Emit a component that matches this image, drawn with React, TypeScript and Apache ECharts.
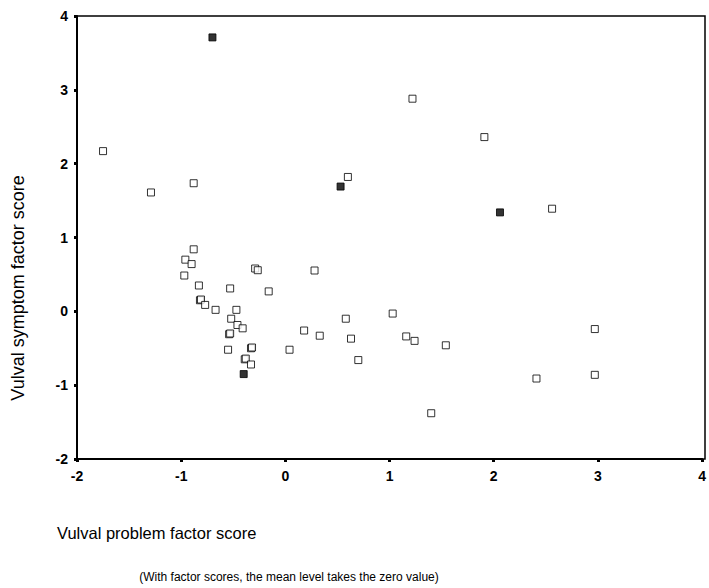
import React, { useEffect, useRef } from "react";
import * as echarts from "echarts";

const xTicks = [-2, -1, 0, 1, 2, 3, 4];
const yTicks = [-2, -1, 0, 1, 2, 3, 4];

// open squares: [problem score, symptom score]
const openPoints: number[][] = [
  [-1.75, 2.17], [-1.29, 1.61], [-0.88, 1.735], [0.6, 1.82],
  [1.22, 2.88], [1.91, 2.36], [2.56, 1.39],
  [-0.88, 0.84], [-0.96, 0.7], [-0.9, 0.64], [-0.97, 0.485], [-0.83, 0.35],
  [-0.82, 0.15], [-0.81, 0.16], [-0.77, 0.087], [-0.67, 0.02], [-0.53, 0.31],
  [-0.47, 0.02], [-0.52, -0.1], [-0.46, -0.185], [-0.41, -0.23],
  [-0.54, -0.31], [-0.53, -0.3], [-0.55, -0.52], [-0.33, -0.5], [-0.32, -0.49],
  [-0.39, -0.65], [-0.38, -0.64], [-0.33, -0.72],
  [-0.29, 0.58], [-0.265, 0.557], [-0.16, 0.27], [0.28, 0.553],
  [0.04, -0.52], [0.18, -0.26], [0.33, -0.33], [0.58, -0.1], [0.63, -0.37], [0.7, -0.66],
  [1.03, -0.03], [1.16, -0.34], [1.24, -0.4], [1.54, -0.46], [1.4, -1.38],
  [2.41, -0.91], [2.97, -0.24], [2.97, -0.86],
];

// filled squares
const filledPoints: number[][] = [
  [-0.7, 3.71], [0.53, 1.69], [2.06, 1.34], [-0.4, -0.85],
];

const xName = "Vulval problem factor score";
const yName = "Vulval symptom factor score";
const note = "(With factor scores, the mean level takes the zero value)";

export default function App() {
  const ref = useRef<HTMLDivElement>(null);
  useEffect(() => {
    if (!ref.current) return;
    document.body.style.margin = "0";
    const chart = echarts.init(ref.current, undefined, { renderer: "svg" });
    const axisCommon = {
      type: "value" as const,
      min: -2,
      max: 4,
      interval: 1,
      splitLine: { show: false },
      axisLine: { show: true, onZero: false, lineStyle: { color: "#000", width: 2 } },
      axisTick: { show: true, length: 3, lineStyle: { color: "#000", width: 3 } },
      axisLabel: {
        color: "#000",
        fontFamily: "Arial, Liberation Sans, sans-serif",
        fontSize: 14,
        fontWeight: "bold" as const,
      },
    };
    chart.setOption({
      animation: false,
      backgroundColor: "#fff",
      grid: { left: 77, right: 4, top: 16, bottom: 129, containLabel: false },
      xAxis: {
        ...axisCommon,
        position: "bottom",
        axisLabel: { ...axisCommon.axisLabel, margin: 10 },
      },
      yAxis: {
        ...axisCommon,
        position: "left",
        axisLabel: { ...axisCommon.axisLabel, margin: 9 },
      },
      graphic: [
        {
          type: "rect",
          shape: { x: 77, y: 16, width: 628, height: 443 },
          style: { fill: "none", stroke: "#000", lineWidth: 1.5 },
          silent: true,
        },
        {
          type: "text",
          x: 57,
          y: 533,
          style: {
            text: xName,
            fill: "#000",
            font: "16.5px Arial, 'Liberation Sans', sans-serif",
            verticalAlign: "middle",
            align: "left",
          },
        },
        {
          type: "text",
          x: 289,
          y: 577,
          style: {
            text: note,
            fill: "#000",
            font: "12px Arial, 'Liberation Sans', sans-serif",
            verticalAlign: "middle",
            align: "center",
          },
        },
        {
          type: "text",
          x: 18,
          y: 288,
          rotation: Math.PI / 2,
          style: {
            text: yName,
            fill: "#000",
            font: "18px Arial, 'Liberation Sans', sans-serif",
            verticalAlign: "middle",
            align: "center",
          },
        },
      ],
      series: [
        {
          type: "scatter",
          data: openPoints,
          symbol: "rect",
          symbolSize: 7,
          itemStyle: { color: "#fff", borderColor: "#000", borderWidth: 1 },
        },
        {
          type: "scatter",
          data: filledPoints,
          symbol: "rect",
          symbolSize: 7,
          itemStyle: { color: "#000", borderColor: "#000", borderWidth: 1 },
        },
      ],
    });
    return () => chart.dispose();
  }, []);
  return <div ref={ref} style={{ width: 709, height: 588 }} />;
}
